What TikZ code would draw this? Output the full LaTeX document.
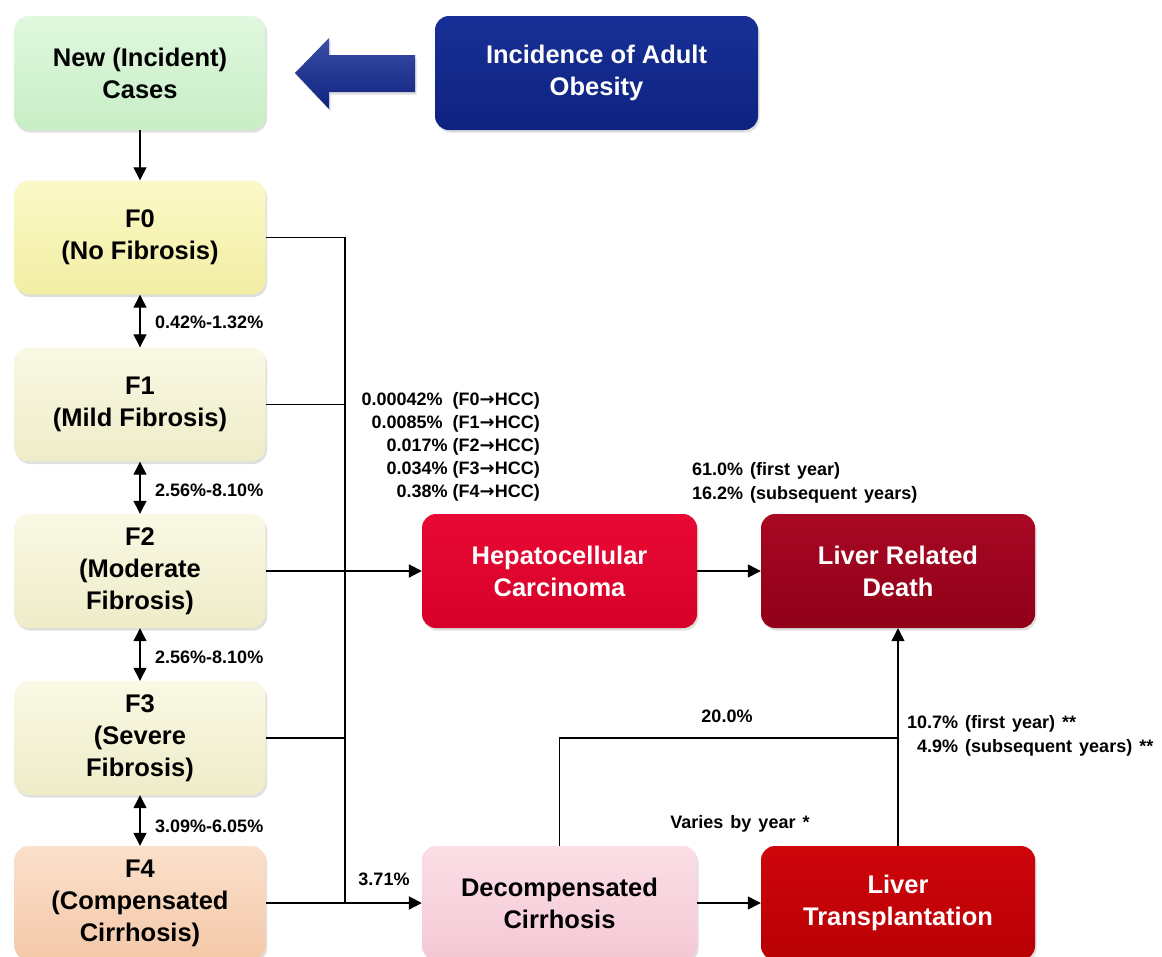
\documentclass[tikz,border=0pt]{standalone}
\usepackage{fontspec}
\setmainfont{Liberation Sans}
\newfontfamily\arrowfont{DejaVu Sans}
\newcommand\rarr{{\arrowfont\bfseries →}}
\newcommand\widesp{\spaceskip=7pt plus 1pt\relax}
\usetikzlibrary{arrows.meta,shadows,calc}
\definecolor{cnew}{RGB}{216,246,214}
\definecolor{cnewb}{RGB}{200,238,198}
\definecolor{cf0}{RGB}{250,247,186}
\definecolor{cf0b}{RGB}{242,238,164}
\definecolor{cf1}{RGB}{248,247,222}
\definecolor{cf1b}{RGB}{238,236,200}
\definecolor{cf4}{RGB}{250,216,190}
\definecolor{cf4b}{RGB}{244,200,168}
\definecolor{cob}{RGB}{24,48,150}
\definecolor{cobb}{RGB}{14,34,128}
\definecolor{chcc}{RGB}{232,10,52}
\definecolor{chccb}{RGB}{214,0,40}
\definecolor{cdeath}{RGB}{168,8,36}
\definecolor{cdeathb}{RGB}{144,0,24}
\definecolor{cdec}{RGB}{250,214,224}
\definecolor{cdecb}{RGB}{244,200,212}
\definecolor{ctx}{RGB}{206,6,12}
\definecolor{ctxb}{RGB}{184,0,4}
\tikzset{
  box/.style={rounded corners=14pt, minimum width=251pt, minimum height=114pt,
    inner sep=2pt, align=center, font=\bfseries\fontsize{25.5}{32}\selectfont,
    drop shadow={shadow xshift=1.5pt, shadow yshift=-2.5pt, opacity=0.25}},
  rbox/.style={box, text=white},
  lab/.style={font=\bfseries\fontsize{18}{23}\selectfont, inner sep=0pt},
  wlab/.style={lab, font=\bfseries\fontsize{18}{24}\selectfont\widesp},
  conn/.style={line width=1.3pt},
  arr/.style={conn, -{Triangle[length=13pt,width=13pt]}},
  darr/.style={conn, {Triangle[length=13pt,width=13pt]}-{Triangle[length=13pt,width=13pt]}},
}
\begin{document}
\begin{tikzpicture}[x=1pt,y=-1pt]
\useasboundingbox (0,0) rectangle (1162,956);
\fill[white] (0,0) rectangle (1162,956);

% boxes
\node[box, top color=cnew!80!white, bottom color=cnewb] (newc) at (140,73) {New (Incident)\\Cases};
\node[rbox, minimum width=323pt, top color=cob, bottom color=cobb] (obes) at (596.5,73) {Incidence of Adult\\Obesity};
\node[box, top color=cf0!80!white, bottom color=cf0b] (f0) at (140,237.5) {F0\\(No Fibrosis)};
\node[box, top color=cf1!80!white, bottom color=cf1b] (f1) at (140,404.5) {F1\\(Mild Fibrosis)};
\node[box, top color=cf1!80!white, bottom color=cf1b] (f2) at (140,571) {F2\\(Moderate\\Fibrosis)};
\node[box, top color=cf1!80!white, bottom color=cf1b] (f3) at (140,738) {F3\\(Severe\\Fibrosis)};
\node[box, top color=cf4!80!white, bottom color=cf4b] (f4) at (140,903) {F4\\(Compensated\\Cirrhosis)};
\node[rbox, minimum width=275pt, top color=chcc, bottom color=chccb] (hcc) at (559.5,571) {Hepatocellular\\Carcinoma};
\node[rbox, minimum width=274pt, top color=cdeath, bottom color=cdeathb] (death) at (898,571) {Liver Related\\Death};
\node[box, minimum width=275pt, top color=cdec!80!white, bottom color=cdecb] (dec) at (559.5,903) {Decompensated\\Cirrhosis};
\node[rbox, minimum width=274pt, top color=ctx, bottom color=ctxb] (tx) at (898,903) {Liver\\Transplantation};

% big left arrow
\path[top color=cob!85!white, bottom color=cobb, drop shadow={shadow xshift=1.5pt, shadow yshift=-2.5pt, opacity=0.25}]
  (295,73) -- (329,38) -- (329,55) -- (415,55) -- (415,92) -- (329,92) -- (329,109) -- cycle;

% connectors
\coordinate (bus) at (345,0);
\coordinate (j) at (898,738);
\draw[arr] (newc) -- (f0);
\draw[darr] (f0) -- (f1);
\draw[darr] (f1) -- (f2);
\draw[darr] (f2) -- (f3);
\draw[darr] (f3) -- (f4);
\draw[conn] (f0.east) -- (f0.east -| bus) -- (f4.east -| bus);
\draw[conn] (f1.east) -- (f1.east -| bus);
\draw[conn] (f2.east) -- (f2.east -| bus);
\draw[conn] (f3.east) -- (f3.east -| bus);
\draw[arr, line width=2pt] (f2.east -| bus) -- (hcc.west);
\draw[arr, line width=2pt] (f4.east) -- (dec.west);
\draw[arr] (hcc) -- (death);
\draw[arr] (dec) -- (tx);
\draw[arr] (tx) -- (death);
\draw[conn] (dec.north) -- (dec.north |- j) -- (j);

% labels
\node[lab, anchor=west] (l01) at (155,322) {0.42\%-1.32\%};
\node[lab, anchor=west] (l12) at (155,490) {2.56\%-8.10\%};
\node[lab, anchor=west] (l23) at (155,657) {2.56\%-8.10\%};
\node[lab, anchor=west] (l34) at (155,826) {3.09\%-6.05\%};
\node[lab, anchor=east, align=right] (lhcc) at (540,447) {0.00042\%\ \ (F0\rarr HCC)\\0.0085\%\ \ (F1\rarr HCC)\\0.017\%\ (F2\rarr HCC)\\0.034\%\ (F3\rarr HCC)\\0.38\%\ (F4\rarr HCC)};
\node[wlab, anchor=west, align=left] (ldeath) at (692,483) {61.0\% (first year)\\16.2\% (subsequent years)};
\node[lab] (l20) at (727,716) {20.0\%};
\node[wlab, anchor=west, align=left] (ltx) at (907,736) {10.7\% (first year) **\\\hspace*{10pt}4.9\% (subsequent years) **};
\node[wlab] (lvar) at (740,824) {Varies by year *};
\node[lab] (l371) at (384,879) {3.71\%};
\end{tikzpicture}
\end{document}
